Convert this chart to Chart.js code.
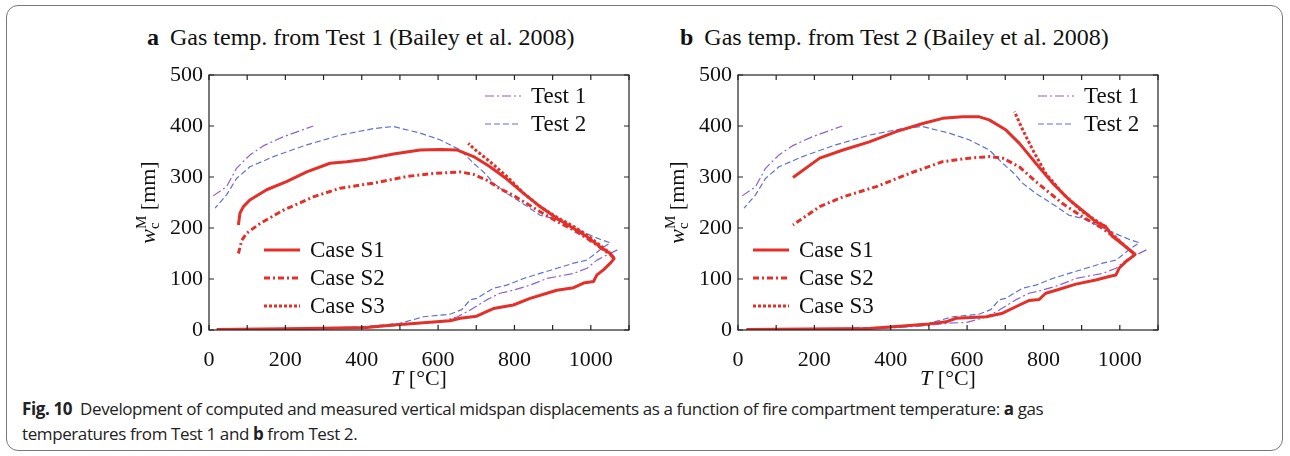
<!DOCTYPE html>
<html>
<head>
<meta charset="utf-8">
<script src="https://cdn.jsdelivr.net/npm/chart.js@4.4.1/dist/chart.umd.min.js"></script>
<style>
  html, body { margin: 0; padding: 0; background: #fff; }
  body { width: 1290px; height: 456px; position: relative; overflow: hidden; }
  .frame {
    position: absolute; left: 6px; top: 5px; width: 1277px; height: 446px;
    border: 1px solid #777; border-radius: 12px; box-sizing: border-box;
  }
  .ptitle {
    position: absolute; top: 24px; font-family: "Liberation Serif", serif;
    font-size: 24px; color: #111; white-space: nowrap;
  }
  .ptitle b { margin-right: 5px; }
  .panel { position: absolute; top: 55px; }
  .caption {
    position: absolute; left: 22px; top: 396px; font-family: "Open Sans", sans-serif;
    font-size: 17px; letter-spacing: -0.4px; line-height: 25px; color: #222; white-space: nowrap;
  }
</style>
</head>
<body>
<div class="frame"></div>
<div class="ptitle" style="left:147px"><b>a</b> Gas temp. from Test 1 (Bailey et al. 2008)</div>
<div class="ptitle" style="left:680px"><b>b</b> Gas temp. from Test 2 (Bailey et al. 2008)</div>
<div class="panel" style="left:120px"><canvas id="chartA" width="530" height="340"></canvas></div>
<div class="panel" style="left:649px"><canvas id="chartB" width="530" height="340"></canvas></div>
<div class="caption"><b>Fig. 10</b>&nbsp; Development of computed and measured vertical midspan displacements as a function of fire compartment temperature: <b>a</b> gas<br>temperatures from Test 1 and <b>b</b> from Test 2.</div>

<script>
// ---- measured curves (same in both panels) ----
const test1UpperT = [11, 46, 72, 107, 142, 195, 273];
const test1UpperW = [263, 281, 317, 343, 361, 379, 400];
const test1LowerT = [20, 200, 400, 500, 545, 600, 651, 684, 727, 762, 797, 841, 885, 920, 955, 990, 1016, 1042, 1072];
const test1LowerW = [0, 1, 4, 9, 13, 15, 26, 39, 59, 72, 78, 88, 101, 106, 111, 121, 137, 147, 158];

const test2T = [20, 200, 396, 500, 562, 631, 662, 684, 701, 745, 780, 824, 867, 911, 955, 990, 1007, 1029, 1051,
  1024, 998, 948, 902, 867, 834, 780, 745, 723, 693, 658, 605, 553, 483, 431, 343, 256, 169, 107, 72, 46, 16];
const test2W = [0, 1, 6, 13, 26, 31, 40, 59, 62, 82, 88, 101, 111, 121, 131, 137, 147, 160, 171,
  178, 186, 203, 219, 225, 242, 268, 288, 307, 327, 353, 373, 386, 399, 395, 382, 363, 340, 320, 297, 265, 239];

// ---- computed curves, panel a (gas temp. from Test 1) ----
const s1aT = [20, 256, 413, 483, 562, 631, 658, 701, 727, 745, 797, 841, 885, 911, 955, 981, 1007, 1016, 1033, 1051, 1061,
  1051, 1024, 990, 955, 911, 867, 824, 780, 736, 693, 649, 605, 553, 483, 413, 361, 317, 256, 203, 151, 107, 90, 81, 77];
const s1aW = [1, 3, 5, 10, 14, 18, 23, 27, 36, 42, 49, 62, 72, 78, 83, 92, 95, 108, 118, 131, 140,
  150, 163, 183, 199, 219, 242, 268, 296, 320, 340, 353, 354, 353, 345, 335, 330, 327, 310, 291, 275, 255, 242, 229, 206];
const s2aT = [1061, 1051, 1024, 990, 955, 911, 867, 832, 797, 762, 727, 693, 658, 588, 518, 431, 343, 273, 195, 134, 99, 86, 77];
const s2aW = [140, 148, 162, 180, 196, 213, 232, 248, 264, 277, 294, 305, 310, 307, 301, 288, 278, 261, 235, 209, 190, 176, 150];
const s3aT = [1061, 1051, 1024, 990, 955, 911, 867, 824, 780, 736, 693, 679];
const s3aW = [140, 150, 166, 186, 203, 221, 242, 268, 301, 330, 356, 366];

// ---- computed curves, panel b (gas temp. from Test 2) ----
const s1bT = [22, 344, 414, 501, 545, 571, 650, 693, 737, 763, 789, 806, 833, 885, 937, 972, 990, 998, 1016, 1040,
  1016, 981, 963, 937, 911, 868, 824, 780, 737, 702, 658, 632, 588, 536, 484, 414, 344, 275, 214, 144];
const s1bW = [1, 3, 7, 12, 16, 23, 26, 33, 49, 58, 60, 72, 78, 90, 98, 105, 108, 121, 134, 148,
  163, 183, 203, 212, 229, 255, 288, 327, 366, 392, 412, 418, 418, 415, 405, 389, 369, 353, 337, 299];
const s2bT = [1040, 1016, 990, 955, 902, 850, 780, 737, 693, 658, 606, 536, 449, 362, 275, 214, 144];
const s2bW = [148, 163, 180, 199, 222, 248, 291, 320, 337, 340, 337, 330, 307, 281, 261, 242, 206];
const s3bT = [1040, 1016, 990, 955, 902, 850, 806, 772, 746, 724];
const s3bW = [148, 163, 181, 206, 232, 268, 307, 353, 392, 428];

// axis ranges and ticks
const tempMax = 1100, tempStep = 100, tempLabelStep = 200;
const wMax = 500, wStep = 100;

const RED = '#e2302a';
const PURPLE = '#8b60d4';
const BLUE = '#5d70d6';
const SERIF = '"Liberation Serif", "Times New Roman", serif';

function pts(xs, ys) {
  return xs.map((x, i) => ({ x: x, y: ys[i] }));
}

function curve(label, xs, ys, color, width, dash) {
  return {
    label: label, data: pts(xs, ys), borderColor: color, backgroundColor: color,
    borderWidth: width, borderDash: dash, showLine: true, pointRadius: 0, tension: 0,
    borderCapStyle: 'butt', borderJoinStyle: 'round'
  };
}

// measured curves go under the computed ones
function testSets() {
  return [
    curve('Test 1', test1LowerT, test1LowerW, PURPLE, 1.2, [9, 3, 2, 3]),
    curve('Test 1 (upper)', test1UpperT, test1UpperW, PURPLE, 1.2, [9, 3, 2, 3]),
    curve('Test 2', test2T, test2W, BLUE, 1.2, [6, 3])
  ];
}

// frame with inward tick marks on all four sides
const frameTicks = {
  id: 'frameTicks',
  afterDatasetsDraw(chart) {
    const { ctx, chartArea: a, scales } = chart;
    const len = 5;
    ctx.save();
    ctx.strokeStyle = '#222';
    ctx.lineWidth = 1.2;
    ctx.strokeRect(a.left, a.top, a.right - a.left, a.bottom - a.top);
    ctx.beginPath();
    scales.x.ticks.forEach(t => {
      const px = scales.x.getPixelForValue(t.value);
      ctx.moveTo(px, a.bottom); ctx.lineTo(px, a.bottom - len);
      ctx.moveTo(px, a.top); ctx.lineTo(px, a.top + len);
    });
    scales.y.ticks.forEach(t => {
      const py = scales.y.getPixelForValue(t.value);
      ctx.moveTo(a.left, py); ctx.lineTo(a.left + len, py);
      ctx.moveTo(a.right, py); ctx.lineTo(a.right - len, py);
    });
    ctx.stroke();
    ctx.restore();
  }
};

// axis titles with italic symbols and sub/superscripts
const axisTitles = {
  id: 'axisTitles',
  afterDraw(chart) {
    const { ctx, chartArea: a } = chart;
    ctx.save();
    ctx.fillStyle = '#111';
    ctx.textBaseline = 'alphabetic';

    // T [°C]
    const it = 'italic 22px ' + SERIF, rm = '22px ' + SERIF;
    ctx.font = it; const wT = ctx.measureText('T').width;
    ctx.font = rm; const wU = ctx.measureText(' [°C]').width;
    let x = (a.left + a.right) / 2 - (wT + wU) / 2;
    const yb = a.bottom + 55;
    ctx.font = it; ctx.fillText('T', x, yb);
    ctx.font = rm; ctx.fillText(' [°C]', x + wT, yb);

    // w_c^M [mm], rotated
    ctx.translate(a.left - 54, (a.top + a.bottom) / 2);
    ctx.rotate(-Math.PI / 2);
    const sm = '15px ' + SERIF;
    ctx.font = it; const ww = ctx.measureText('w').width;
    ctx.font = sm; const wc = ctx.measureText('c').width, wm = ctx.measureText('M').width;
    ctx.font = rm; const wb = ctx.measureText(' [mm]').width;
    const wScript = Math.max(wc, wm);
    x = -(ww + wScript + wb) / 2;
    ctx.font = it; ctx.fillText('w', x, 0);
    ctx.font = sm;
    ctx.fillText('c', x + ww, 4);
    ctx.fillText('M', x + ww, -9);
    ctx.font = rm; ctx.fillText(' [mm]', x + ww + wScript, 0);
    ctx.restore();
  }
};

// in-plot legends: line sample + label, placed relative to the plot area
const curveLegend = {
  id: 'curveLegend',
  afterDraw(chart, args, opts) {
    const { ctx, chartArea: a } = chart;
    ctx.save();
    ctx.font = '23px ' + SERIF;
    ctx.textBaseline = 'middle';
    opts.groups.forEach(g => {
      g.labels.forEach((lab, i) => {
        const ds = chart.data.datasets.find(d => d.label === lab);
        const x0 = a.left + g.dx, y = a.top + g.dy + i * g.rowGap;
        ctx.beginPath();
        ctx.strokeStyle = ds.borderColor;
        ctx.lineWidth = ds.borderWidth;
        ctx.setLineDash(ds.borderDash || []);
        ctx.moveTo(x0, y); ctx.lineTo(x0 + 36, y);
        ctx.stroke();
        ctx.setLineDash([]);
        ctx.fillStyle = '#111';
        ctx.fillText(lab, x0 + 46, y + 1);
      });
    });
    ctx.restore();
  }
};

function makeChart(id, sets, testDx, caseDx) {
  return new Chart(document.getElementById(id), {
    type: 'scatter',
    data: { datasets: sets.concat(testSets()) },
    options: {
      responsive: false,
      animation: false,
      layout: { padding: { left: 0, right: 21, top: 20, bottom: 0 } },
      scales: {
        x: {
          type: 'linear', min: 0, max: tempMax,
          grid: { display: false, drawTicks: false }, border: { display: false },
          afterFit: s => { s.height = 65; },
          ticks: {
            stepSize: tempStep, padding: 17, color: '#111',
            maxRotation: 0, minRotation: 0, autoSkip: false,
            font: { family: SERIF, size: 22 },
            callback: v => (v % tempLabelStep === 0 ? v : '')
          }
        },
        y: {
          type: 'linear', min: 0, max: wMax,
          grid: { display: false, drawTicks: false }, border: { display: false },
          afterFit: s => { s.width = 89; },
          ticks: { stepSize: wStep, padding: 6, color: '#111', font: { family: SERIF, size: 22 } }
        }
      },
      plugins: {
        legend: { display: false },
        tooltip: { enabled: false },
        curveLegend: {
          groups: [
            { dx: testDx, dy: 21, rowGap: 28, labels: ['Test 1', 'Test 2'] },
            { dx: caseDx, dy: 175, rowGap: 28, labels: ['Case S1', 'Case S2', 'Case S3'] }
          ]
        }
      }
    },
    plugins: [frameTicks, axisTitles, curveLegend]
  });
}

function caseSets(s1T, s1W, s2T, s2W, s3T, s3W) {
  return [
    curve('Case S1', s1T, s1W, RED, 3, []),
    curve('Case S2', s2T, s2W, RED, 3, [6, 3, 2, 3]),
    curve('Case S3', s3T, s3W, RED, 3, [3, 2])
  ];
}

makeChart('chartA', caseSets(s1aT, s1aW, s2aT, s2aW, s3aT, s3aW), 276, 55);
makeChart('chartB', caseSets(s1bT, s1bW, s2bT, s2bW, s3bT, s3bW), 300, 15);
</script>
</body>
</html>
